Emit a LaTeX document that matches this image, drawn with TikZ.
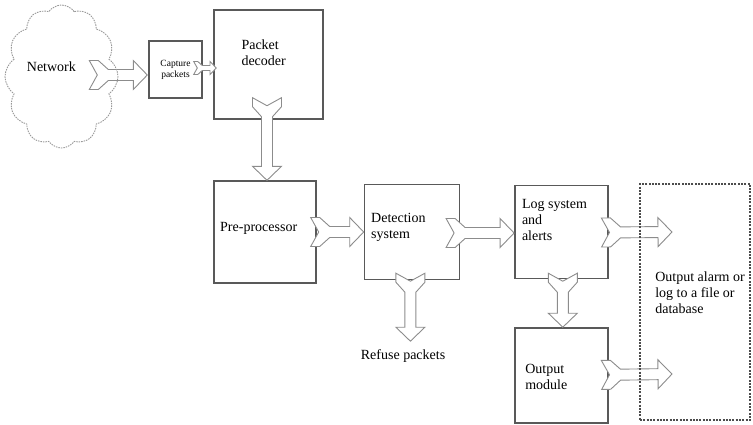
\documentclass[tikz,border=0pt]{standalone}
\usepackage{fontspec}
\setmainfont{Liberation Serif}
\usetikzlibrary{positioning,calc,shapes.symbols}

\tikzset{
  fatline/.style={draw=black!45, fill=white, line width=0.9pt, line join=miter},
}

% hollow block arrow with a notched tail: #2 = tail, #3 = tip, #1 = size
\newcommand{\fatarrow}[3][1]{%
  \path let \p1=(#2), \p2=(#3) in \pgfextra{%
    \pgfmathsetmacro\fatang{atan2(\y2-\y1,\x2-\x1)}\xdef\fatang{\fatang}%
    \pgfmathsetlengthmacro\fatlen{veclen(\x2-\x1,\y2-\y1)}\xdef\fatlen{\fatlen}};
  \pgfmathsetlengthmacro\fT{14.5*#1}% tail half width
  \pgfmathsetlengthmacro\fa{9*#1}%    flat part of the tail
  \pgfmathsetlengthmacro\fb{19*#1}%   tail meets shaft
  \pgfmathsetlengthmacro\fn{8*#1}%    notch depth
  \pgfmathsetlengthmacro\fh{5.5*#1}%  shaft half width
  \pgfmathsetlengthmacro\fH{14.5*#1}% head half width
  \pgfmathsetlengthmacro\fm{\fatlen-14*#1}% head base
  \filldraw[fatline, shift={(#2)}, rotate=\fatang]
    (0pt,\fT) -- (\fa,\fT) -- (\fb,\fh) -- (\fm,\fh) -- (\fm,\fH) -- (\fatlen,0pt)
    -- (\fm,-\fH) -- (\fm,-\fh) -- (\fb,-\fh) -- (\fa,-\fT) -- (0pt,-\fT) -- (\fn,0pt) -- cycle;
}

\begin{document}
\begin{tikzpicture}[x=1pt, y=-1pt,
    box/.style={draw=black!65, line width=1.4pt, inner sep=0pt},
    txt/.style={font=\fontsize{14}{16}\selectfont, align=left, inner sep=0pt},
    small/.style={font=\fontsize{9.5}{11}\selectfont, align=center, inner sep=0pt},
    outbox/.style={draw=black!70, line width=1.8pt, dash pattern=on 2pt off 1.3pt, inner sep=0pt},
    netcloud/.style={cloud, cloud puffs=12, cloud puff arc=110, aspect=0.8, draw=black!40,
                     line width=0.9pt, dash pattern=on 1.5pt off 1pt, inner sep=0pt}
  ]
  \useasboundingbox (0,0) rectangle (753,424);

  %% boxes
  \node[box, minimum width=53pt, minimum height=57pt]   (cap)  at (175.5,69.5) {};
  \node[box, minimum width=109pt, minimum height=109pt] (dec)  at (268.5,64.5) {};
  \node[box, minimum width=102pt, minimum height=102pt] (pre)  at (265,232) {};
  \node[box, minimum width=95pt, minimum height=95pt, right=47pt of pre] (det) {};
  \node[box, minimum width=93pt, minimum height=93pt, right=54pt of det] (log) {};
  \node[box, minimum width=93pt, minimum height=95pt, below=48pt of log] (outm) {};

  %% labels
  \node[small] (captxt) at (cap.center) {Capture\\packets};
  \node[txt, below right=30.4pt and 28pt of dec.north west]  (dectxt) {Packet\\decoder};
  \node[txt, below right=41.4pt and 6.7pt of pre.north west] (pretxt) {Pre-processor};
  \node[txt, below right=29.7pt and 7.3pt of det.north west] (dettxt) {Detection\\system};
  \node[txt, below right=14.7pt and 7.7pt of log.north west] (logtxt) {Log system\\and\\alerts};
  \node[txt, below right=37.3pt and 11pt of outm.north west] (outtxt) {Output\\module};

  %% free ends
  \coordinate (rtip) at ($(det.south)+(-1.5,61)$);
  \coordinate (o1) at (672,232);
  \coordinate (o2) at (672,374);

  %% arrows
  \fatarrow{$(cap.west)+(-59,5.5)$}{$(cap.west)+(-1,5.5)$}
  \fatarrow[0.45]{$(cap.east)+(-9,-1.5)$}{$(dec.west|-cap.east)+(3,-1.5)$}
  \fatarrow{$(dec.south)+(-1.5,-22)$}{$(pre.north)+(2,0)$}
  \fatarrow{$(pre.east)+(-6,0)$}{det.west}
  \fatarrow{$(det.east)+(-14,1)$}{$(log.west)+(0,1)$}
  \fatarrow{$(det.south)+(-1.5,-7)$}{rtip}
  \fatarrow{$(log.east)+(-7,0.5)$}{o1}
  \fatarrow{$(log.south)+(1.5,-6)$}{$(outm.north)+(1.5,0)$}
  \fatarrow{$(outm.east)+(-7,-0.5)$}{o2}

  \node[txt, anchor=base west] (reftxt) at (360.7,359) {Refuse packets};

  %% network cloud and output store
  \node[netcloud, minimum width=113pt, minimum height=143pt] (net) at (61.5,76.5) {};
  \node[txt, anchor=base west] (nettxt) at (26.7,71.7) {Network};
  \node[outbox, minimum width=110pt, minimum height=236pt] (store) at (695,302) {};
  \node[txt, below right=88pt and 16pt of store.north west] (storetxt)
    {Output alarm or\\log to a file or\\database};
\end{tikzpicture}
\end{document}
